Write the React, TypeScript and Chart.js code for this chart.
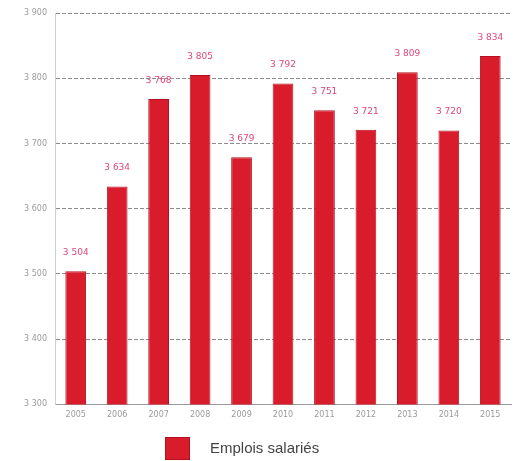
import React, { useEffect, useRef } from "react";
import { Chart, registerables } from "chart.js";

Chart.register(...registerables);

const categories = ["2005", "2006", "2007", "2008", "2009", "2010", "2011", "2012", "2013", "2014", "2015"];
const emplois = [3504, 3634, 3768, 3805, 3679, 3792, 3751, 3721, 3809, 3720, 3834];
const seriesLabel = "Emplois salariés";
const yMin = 3300;
const yMax = 3900;
const yStep = 100;

const fmt = (v: number) => {
  const s = String(Math.round(v));
  return s.length > 3 ? s.slice(0, s.length - 3) + " " + s.slice(-3) : s;
};

const valueLabels = {
  id: "valueLabels",
  afterDatasetsDraw(chart: any) {
    const ctx = chart.ctx;
    const meta = chart.getDatasetMeta(0);
    ctx.save();
    ctx.font = "9px 'DejaVu Sans', sans-serif";
    ctx.fillStyle = "#e0457e";
    ctx.textAlign = "center";
    ctx.textBaseline = "bottom";
    meta.data.forEach((bar: any, i: number) => {
      ctx.fillText(fmt(emplois[i]), bar.x, bar.y - 14);
    });
    ctx.restore();
  },
};

const customLegend = {
  id: "customLegend",
  afterDraw(chart: any) {
    const ctx = chart.ctx;
    ctx.save();
    const bx = 165, by = 437, bw = 25, bh = 23;
    ctx.fillStyle = "#d81c2c";
    ctx.fillRect(bx, by, bw, bh);
    ctx.strokeStyle = "#b51020";
    ctx.lineWidth = 1;
    ctx.strokeRect(bx + 0.5, by + 0.5, bw - 1, bh - 1);
    ctx.font = "15px 'Liberation Sans', Arial, sans-serif";
    ctx.fillStyle = "#444444";
    ctx.textAlign = "left";
    ctx.textBaseline = "middle";
    ctx.fillText(chart.data.datasets[0].label, 210, by + bh / 2);
    ctx.restore();
  },
};

export default function App() {
  const ref = useRef<HTMLCanvasElement | null>(null);
  useEffect(() => {
    if (!ref.current) return;
    const chart = new Chart(ref.current, {
      type: "bar",
      data: {
        labels: categories,
        datasets: [
          {
            label: seriesLabel,
            data: emplois,
            backgroundColor: "#d81c2c",
            borderColor: "#b51020",
            borderWidth: 1,
            barPercentage: 0.5,
            categoryPercentage: 1,
          },
        ],
      },
      options: {
        responsive: false,
        animation: false,
        maintainAspectRatio: false,
        layout: { padding: { top: 13, right: 12, bottom: 35, left: 0 } },
        plugins: { legend: { display: false }, tooltip: { enabled: false } },
        scales: {
          x: {
            offset: true,
            grid: { display: false, drawTicks: false },
            border: { display: true, color: "#9a9a9a" },
            ticks: { color: "#9a9a9a", font: { size: 8, family: "'DejaVu Sans', sans-serif" }, padding: 6, maxRotation: 0 },
          },
          y: {
            min: yMin,
            max: yMax,
            afterFit: (s: any) => { s.width = 55; },
            ticks: {
              stepSize: yStep,
              color: "#9a9a9a",
              font: { size: 8, family: "'DejaVu Sans', sans-serif" },
              padding: 8,
              callback: (v: any) => fmt(Number(v)),
            },
            grid: { color: "#8c8c8c", lineWidth: 1, drawTicks: false },
            border: { display: true, color: "#cfcfcf", dash: [4, 2] },
          },
        },
      },
      plugins: [valueLabels, customLegend],
    });
    return () => chart.destroy();
  }, []);
  return (
    <div style={{ position: "fixed", left: 0, top: 0, width: 523, height: 461, background: "#fff" }}>
      <canvas ref={ref} width={523} height={461} style={{ width: 523, height: 461 }} />
    </div>
  );
}
